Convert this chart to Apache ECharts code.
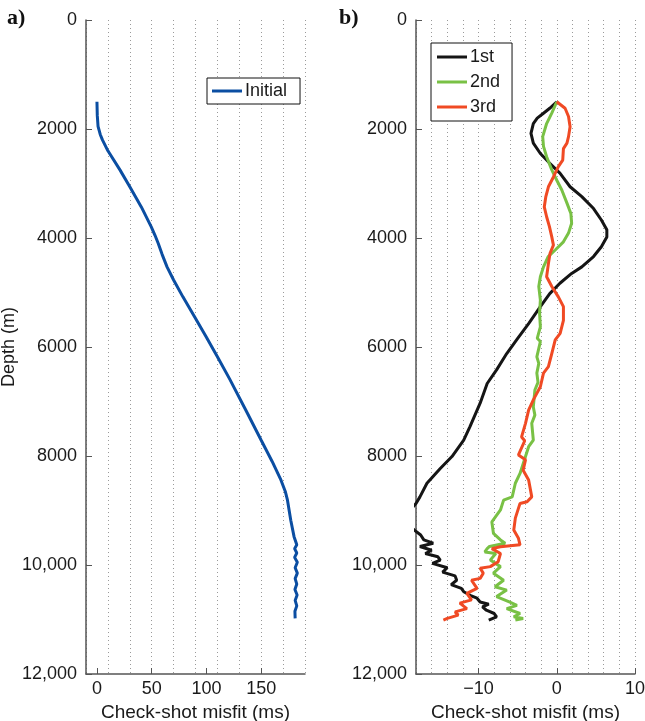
<!DOCTYPE html>
<html>
<head>
<meta charset="utf-8">
<script src="https://cdn.jsdelivr.net/npm/echarts@6/dist/echarts.min.js"></script>
<style>
  html, body { margin: 0; padding: 0; background: #fff; }
  #chart { width: 645px; height: 721px; }
</style>
</head>
<body>
<div id="chart"></div>
<script>
// Depth ticks shared by both panels
const depthTicks = [0, 2000, 4000, 6000, 8000, 10000, 12000];

// Panel a: initial model misfit (ms) versus depth (m)
const initialDepth = [1500, 1750, 1950, 2100, 2200, 2400, 2750, 3060, 3430, 3790, 3950, 4100, 4300, 4530, 4770, 5080, 5440, 5810, 6180, 6580, 7160, 7710, 8100, 8440, 8650, 8810, 9180, 9480, 9630, 9700, 9780, 9860, 9950, 10050, 10150, 10250, 10350, 10450, 10550, 10650, 10750, 10850, 10980];
const initialMisfit = [0, 0.3, 1, 3, 5, 10, 21, 30, 40.5, 49.5, 53, 56, 59.5, 64, 70, 78.5, 89, 99.7, 110, 121, 136, 150, 160, 168, 172, 174, 177, 180, 182.5, 180.5, 182.5, 180.5, 183, 181, 183, 181, 182.5, 180.8, 182.8, 181, 182.5, 180.8, 181];

// Panel b: misfit after each iteration
const firstDepth = [1500, 1620, 1710, 1800, 1900, 2080, 2260, 2450, 2630, 2810, 3060, 3240, 3460, 3670, 3850, 3980, 4160, 4340, 4530, 4650, 4830, 5020, 5260, 5570, 5840, 6120, 6420, 6670, 7030, 7460, 7710, 8010, 8230, 8500, 8750, 8870, 9000, 9150, 9280, 9360, 9450, 9540, 9600, 9660, 9730, 9790, 9850, 9910, 9970, 10050, 10130, 10200, 10280, 10360, 10430, 10490, 10560, 10610, 10680, 10720, 10770, 10830, 10890, 10950, 11010];
const firstMisfit = [0, -0.9, -1.7, -2.5, -3.0, -3.3, -3.0, -2.1, -0.9, 0.4, 1.7, 3.2, 4.7, 5.7, 6.4, 6.4, 5.7, 4.7, 3.2, 1.9, 0.4, -0.9, -2.1, -3.6, -5.0, -6.4, -7.7, -8.9, -9.8, -11.1, -11.9, -13.4, -14.9, -16.6, -17.5, -18.0, -18.8, -19.3, -18.9, -18.2, -17.4, -17.0, -15.8, -17.5, -16.0, -16.8, -15.2, -14.9, -15.9, -14.0, -14.6, -13.0, -12.8, -13.5, -12.2, -11.9, -11.0, -10.2, -9.8, -8.7, -9.5, -9.0, -8.0, -7.7, -8.7];

const secondDepth = [1500, 1710, 1900, 2140, 2320, 2510, 2750, 2940, 3120, 3360, 3550, 3730, 3910, 4070, 4220, 4340, 4530, 4710, 4890, 5140, 5380, 5630, 5840, 5900, 6180, 6300, 6480, 6650, 6790, 7100, 7250, 7400, 7710, 7830, 8010, 8320, 8500, 8750, 8810, 8990, 9210, 9420, 9540, 9600, 9660, 9700, 9760, 9790, 9910, 10030, 10150, 10280, 10400, 10460, 10580, 10680, 10740, 10800, 10890, 10950, 10980, 11010];
const secondMisfit = [0, -0.64, -1.3, -1.8, -1.7, -1.3, -0.64, 0, 0.64, 1.3, 1.8, 1.9, 1.5, 0.85, -0.2, -1.1, -1.7, -2.1, -2.3, -2.1, -2.2, -2.1, -2.5, -2.1, -2.55, -2.3, -2.55, -2.4, -2.8, -3.0, -2.8, -3.2, -3.0, -3.6, -4.0, -4.7, -5.3, -5.7, -6.8, -7.2, -8.3, -8.1, -7.2, -6.6, -8.6, -8.9, -9.2, -7.8, -8.5, -7.2, -8.1, -6.8, -7.9, -6.4, -7.7, -6.0, -5.1, -6.4, -4.7, -5.5, -4.3, -5.3];

const thirdDepth = [1500, 1620, 1770, 1960, 2140, 2260, 2360, 2570, 2690, 2880, 3060, 3240, 3430, 3610, 3790, 3980, 4130, 4280, 4470, 4710, 4890, 5080, 5260, 5510, 5750, 5870, 6120, 6360, 6480, 6730, 6970, 7160, 7400, 7650, 7720, 7980, 8070, 8260, 8440, 8750, 8840, 8870, 9140, 9360, 9510, 9630, 9665, 9700, 9790, 9940, 10030, 10060, 10150, 10245, 10280, 10430, 10520, 10640, 10700, 10800, 10860, 10920, 10980, 11010];
const thirdMisfit = [0, 1.06, 1.5, 1.7, 1.5, 1.3, 0.85, 0.76, 0.2, -0.43, -1.07, -1.4, -1.6, -1.3, -0.94, -0.64, -0.43, -0.86, -1.07, -1.3, -0.64, 0.2, 0.85, 0.85, 0.43, -0.2, -0.64, -1.07, -1.7, -2.1, -3.0, -3.6, -4.0, -4.5, -4.1, -4.9, -4.0, -4.3, -3.6, -3.2, -3.8, -4.7, -5.3, -5.5, -4.9, -4.7, -7.2, -8.3, -7.2, -7.5, -8.5, -9.8, -9.4, -9.8, -10.9, -10.2, -11.5, -10.9, -12.4, -11.5, -13.0, -12.6, -14.0, -14.5];

// Labelled x ticks for each panel
const ticksA = [0, 50, 100, 150];
const ticksB = [-10, 0, 10];

const pairs = (xs, ys) => xs.map((x, i) => [x, ys[i]]);

const FONT = 'Liberation Sans';
const TXT = '#1a1a1a';
const AXIS = '#555';

function depthLabel(v) {
  return v >= 10000 ? v.toLocaleString('en-US') : String(v);
}

function yAxisFor(gridIndex, withName) {
  return {
    type: 'value', gridIndex: gridIndex, inverse: true,
    min: 0, max: 12000, interval: 2000,
    name: withName ? 'Depth (m)' : '',
    nameLocation: 'middle', nameGap: 60,
    nameTextStyle: { fontFamily: FONT, fontSize: 18, color: TXT },
    axisLine: { show: true, onZero: false, lineStyle: { color: AXIS, width: 1.5 } },
    axisTick: { show: true, inside: true, length: 6, lineStyle: { color: AXIS } },
    axisLabel: { fontFamily: FONT, fontSize: 18, color: TXT, margin: 9, formatter: depthLabel },
    splitLine: { show: false }
  };
}

function labelAxis(gridIndex, min, max, ticks, fmt) {
  return {
    type: 'value', gridIndex: gridIndex, position: 'bottom',
    min: min, max: max,
    name: 'Check-shot misfit (ms)', nameLocation: 'middle', nameGap: 25,
    nameTextStyle: { fontFamily: FONT, fontSize: 19, color: TXT },
    axisLine: { show: true, onZero: false, lineStyle: { color: AXIS, width: 1.5 } },
    axisTick: { show: true, inside: true, length: 6, customValues: ticks, lineStyle: { color: AXIS } },
    axisLabel: { fontFamily: FONT, fontSize: 18, color: TXT, margin: 6, customValues: ticks, formatter: fmt },
    splitLine: { show: false }
  };
}

function gridAxis(gridIndex, min, max, step) {
  return {
    type: 'value', gridIndex: gridIndex, position: 'bottom',
    min: min, max: max, interval: step,
    axisLine: { show: false }, axisTick: { show: false }, axisLabel: { show: false },
    splitLine: { show: true, lineStyle: { color: '#9a9a9a', width: 1, type: [1, 3] } }
  };
}

const signed = v => (v < 0 ? '\u2212' + Math.abs(v) : String(v));

const chart = echarts.init(document.getElementById('chart'), null, { renderer: 'canvas' });

chart.setOption({
  animation: false,
  backgroundColor: '#fff',
  textStyle: { fontFamily: FONT },
  grid: [
    { left: 86, top: 20, width: 219, height: 654, containLabel: false, outerBoundsMode: 'none' },
    { left: 416, top: 20, width: 219, height: 654, containLabel: false, outerBoundsMode: 'none' }
  ],
  xAxis: [
    labelAxis(0, -10, 190, ticksA, v => String(v)),
    gridAxis(0, -10, 190, 20),
    labelAxis(1, -18, 10, ticksB, signed),
    gridAxis(1, -18, 10, 2)
  ],
  yAxis: [yAxisFor(0, true), yAxisFor(1, false)],
  legend: [
    {
      data: ['Initial'], left: 207, top: 78,
      orient: 'vertical', icon: 'rect', itemWidth: 30, itemHeight: 3, itemGap: 6,
      padding: [4, 13, 4, 5],
      borderColor: '#111', borderWidth: 1, backgroundColor: '#fff',
      textStyle: { fontFamily: FONT, fontSize: 18, color: TXT, padding: [0, 0, 0, -2] }
    },
    {
      data: ['1st', '2nd', '3rd'], left: 431, top: 43,
      orient: 'vertical', icon: 'rect', itemWidth: 30, itemHeight: 3, itemGap: 7,
      padding: [5, 12, 5, 6],
      borderColor: '#111', borderWidth: 1, backgroundColor: '#fff',
      textStyle: { fontFamily: FONT, fontSize: 18, color: TXT, padding: [0, 0, 0, -2] }
    }
  ],
  graphic: [
    { type: 'text', left: 7, top: 7, style: { text: 'a)', font: 'bold 22px "Liberation Serif"', fill: '#111' } },
    { type: 'text', left: 339, top: 7, style: { text: 'b)', font: 'bold 22px "Liberation Serif"', fill: '#111' } }
  ],
  series: [
    {
      name: 'Initial', type: 'line', xAxisIndex: 0, yAxisIndex: 0,
      data: pairs(initialMisfit, initialDepth), symbol: 'none', clip: true,
      lineStyle: { color: '#0b4ea2', width: 3 }, itemStyle: { color: '#0b4ea2' }
    },
    {
      name: '1st', type: 'line', xAxisIndex: 2, yAxisIndex: 1,
      data: pairs(firstMisfit, firstDepth), symbol: 'none', clip: true,
      lineStyle: { color: '#151515', width: 3 }, itemStyle: { color: '#151515' }
    },
    {
      name: '2nd', type: 'line', xAxisIndex: 2, yAxisIndex: 1,
      data: pairs(secondMisfit, secondDepth), symbol: 'none', clip: true,
      lineStyle: { color: '#79c145', width: 3 }, itemStyle: { color: '#79c145' }
    },
    {
      name: '3rd', type: 'line', xAxisIndex: 2, yAxisIndex: 1,
      data: pairs(thirdMisfit, thirdDepth), symbol: 'none', clip: true,
      lineStyle: { color: '#f04a24', width: 3 }, itemStyle: { color: '#f04a24' }
    }
  ]
});
</script>
</body>
</html>
